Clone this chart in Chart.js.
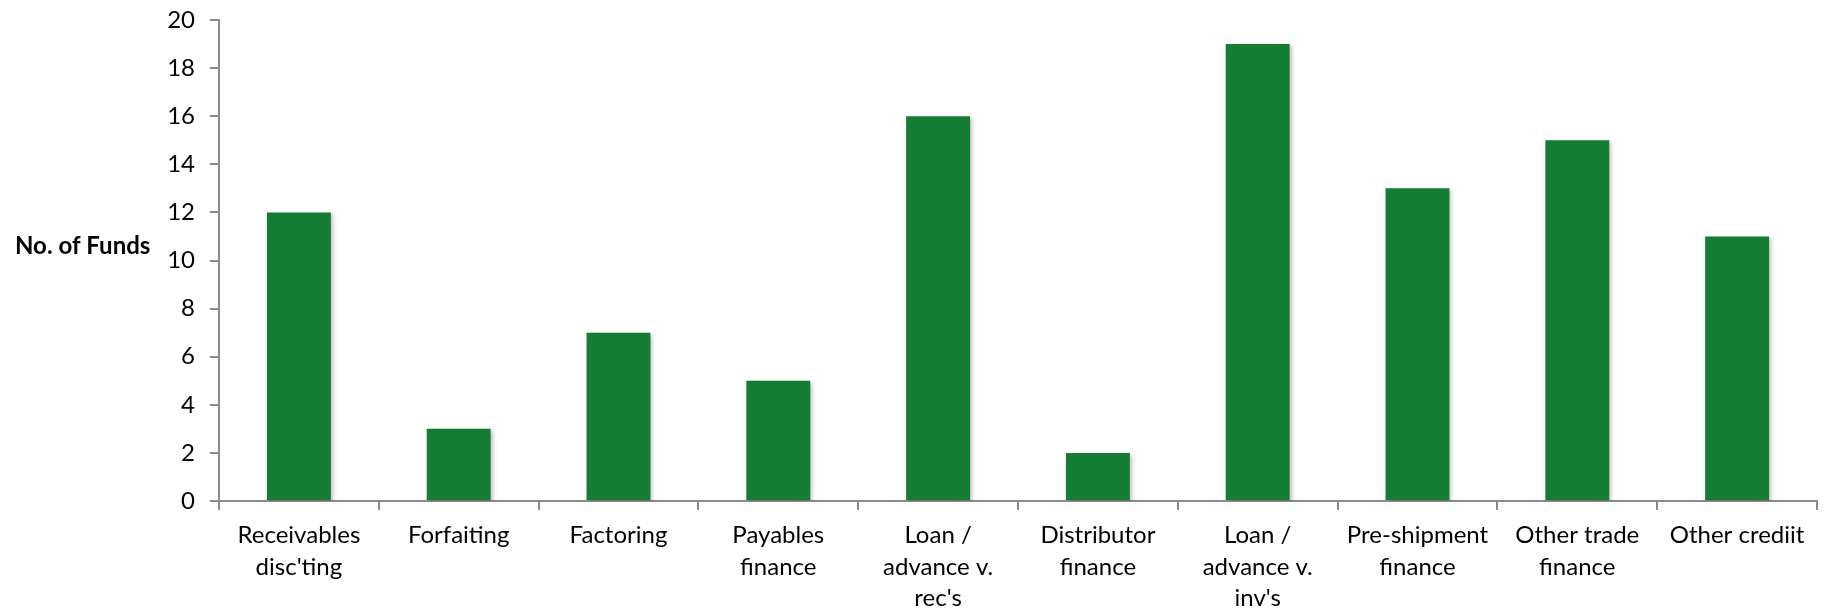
<!DOCTYPE html>
<html>
<head>
<meta charset="utf-8">
<script src="https://cdn.jsdelivr.net/npm/chart.js@4"></script>
<style>
  html, body { margin: 0; padding: 0; background: #fff; }
  #wrap { width: 1827px; height: 611px; position: relative; }
</style>
</head>
<body>
<div id="wrap"><canvas id="chart"></canvas></div>
<script>
let categories = [
    ['Receivables', "disc'ting"],
    ['Forfaiting'],
    ['Factoring'],
    ['Payables', 'finance'],
    ['Loan /', 'advance v.', "rec's"],
    ['Distributor', 'finance'],
    ['Loan /', 'advance v.', "inv's"],
    ['Pre-shipment', 'finance'],
    ['Other trade', 'finance'],
    ['Other crediit'],
]
let funds = [12, 3, 7, 5, 16, 2, 19, 13, 15, 11]
let yTicks = [0, 2, 4, 6, 8, 10, 12, 14, 16, 18, 20]

const FONT = "Lato, 'Open Sans', sans-serif"
const AXIS = '#8c8c8c'

// horizontal y-axis title to the left of the tick labels
const yTitle = {
    id: 'yTitle',
    afterDraw(chart) {
        let ctx = chart.ctx
        ctx.save()
        ctx.font = 'bold 24px ' + FONT
        ctx.fillStyle = '#000'
        ctx.textAlign = 'left'
        ctx.textBaseline = 'middle'
        ctx.fillText('No. of Funds', 15, 246)
        ctx.restore()
    },
}

// soft shadow behind bars
const barShadow = {
    id: 'barShadow',
    beforeDatasetDraw(chart) {
        let ctx = chart.ctx
        ctx.save()
        ctx.shadowColor = 'rgba(0,0,0,0.25)'
        ctx.shadowBlur = 4
        ctx.shadowOffsetX = 2
        ctx.shadowOffsetY = 2
    },
    afterDatasetDraw(chart) {
        chart.ctx.restore()
    },
}

new Chart(document.getElementById('chart'), {
    type: 'bar',
    data: {
        labels: categories,
        datasets: [{
            label: 'No. of Funds',
            data: funds,
            backgroundColor: '#157c34',
            borderWidth: 0,
            categoryPercentage: 1,
            barPercentage: 0.4,
        }],
    },
    options: {
        responsive: true,
        maintainAspectRatio: false,
        animation: false,
        layout: { padding: { left: 0, right: 10, top: 20, bottom: 0 } },
        plugins: {
            legend: { display: false },
            tooltip: { enabled: false },
        },
        scales: {
            x: {
                grid: { drawOnChartArea: false, drawTicks: true, tickLength: 9, color: AXIS, lineWidth: 2 },
                border: { color: AXIS, width: 2 },
                ticks: {
                    color: '#000',
                    font: { family: FONT, size: 24, lineHeight: 1.31 },
                    maxRotation: 0,
                    autoSkip: false,
                    padding: 10,
                },
                afterFit(scale) {
                    scale.height = 110
                    scale.paddingRight = 0
                },
            },
            y: {
                min: 0,
                max: 20,
                grid: { drawOnChartArea: false, drawTicks: true, tickLength: 9, color: AXIS, lineWidth: 2 },
                border: { color: AXIS, width: 2 },
                afterBuildTicks(scale) {
                    scale.ticks = yTicks.map((v) => ({ value: v }))
                },
                ticks: {
                    color: '#000',
                    font: { family: FONT, size: 24 },
                    padding: 15,
                },
                afterFit(scale) {
                    scale.width = 219
                    scale.paddingTop = 0
                    scale.paddingBottom = 0
                },
            },
        },
    },
    plugins: [yTitle, barShadow],
})
</script>
</body>
</html>
